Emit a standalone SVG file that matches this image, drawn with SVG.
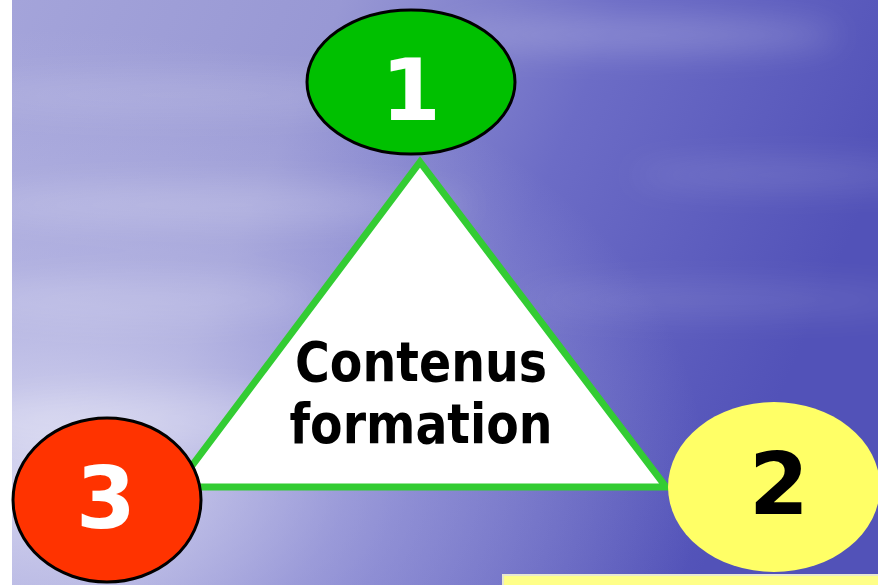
<svg xmlns="http://www.w3.org/2000/svg" width="878" height="585" viewBox="0 0 878 585">
<defs>
<linearGradient id="sky" x1="0" y1="0" x2="1" y2="0.3">
<stop offset="0" stop-color="#a4a4da"/>
<stop offset="0.35" stop-color="#9898d4"/>
<stop offset="0.65" stop-color="#6c6cc6"/>
<stop offset="1" stop-color="#5252b8"/>
</linearGradient>
<radialGradient id="glow" cx="0.05" cy="0.8" r="0.75">
<stop offset="0" stop-color="#e4e4f6" stop-opacity="0.85"/>
<stop offset="0.45" stop-color="#c8c8ec" stop-opacity="0.45"/>
<stop offset="1" stop-color="#c8c8ec" stop-opacity="0"/>
</radialGradient>
<filter id="blur" x="-30%" y="-100%" width="160%" height="300%"><feGaussianBlur stdDeviation="16"/></filter>
<style>
.lbl{font-family:"DejaVu Sans","Verdana",sans-serif;font-weight:bold;text-anchor:middle}
.num{font-size:86px}
.mid{font-size:56px;fill:#000}
</style>
</defs>
<rect width="878" height="585" fill="#ffffff"/>
<g id="background">
<rect x="12" y="0" width="866" height="585" fill="url(#sky)"/>
<rect x="12" y="0" width="866" height="585" fill="url(#glow)"/>
<g filter="url(#blur)" fill="#ffffff">
<ellipse cx="180" cy="95" rx="220" ry="20" opacity="0.12"/>
<ellipse cx="220" cy="205" rx="250" ry="20" opacity="0.18"/>
<ellipse cx="140" cy="300" rx="180" ry="24" opacity="0.15"/>
<ellipse cx="640" cy="35" rx="200" ry="16" opacity="0.22"/>
<ellipse cx="790" cy="175" rx="160" ry="12" opacity="0.15"/>
<ellipse cx="720" cy="300" rx="200" ry="14" opacity="0.12"/>
<ellipse cx="180" cy="420" rx="220" ry="28" opacity="0.22"/>
</g>
</g>
<g id="triangle">
<polygon points="420,162 176,487 666,487" fill="#ffffff" stroke="#33cc33" stroke-width="7" stroke-linejoin="miter"/>
<text class="lbl mid" x="421" y="381" textLength="252" lengthAdjust="spacingAndGlyphs">Contenus</text>
<text class="lbl mid" x="421" y="443" textLength="263" lengthAdjust="spacingAndGlyphs">formation</text>
</g>
<g id="node1">
<ellipse cx="411" cy="82" rx="104" ry="72" fill="#00c000" stroke="#000" stroke-width="3"/>
<text class="lbl num" x="411" y="120" fill="#ffffff">1</text>
</g>
<g id="node3">
<ellipse cx="107" cy="500" rx="94" ry="82" fill="#ff3300" stroke="#000" stroke-width="3"/>
<text class="lbl num" x="106" y="528" fill="#ffffff">3</text>
</g>
<g id="node2">
<ellipse cx="774" cy="487" rx="106" ry="85" fill="#ffff66"/>
<text class="lbl num" x="779" y="514" fill="#000">2</text>
</g>
<g id="box">
<rect x="503" y="575" width="380" height="14" fill="#ffff88" stroke="#e8e8d0" stroke-width="2"/>
</g>
<g id="connectors"/>
</svg>
